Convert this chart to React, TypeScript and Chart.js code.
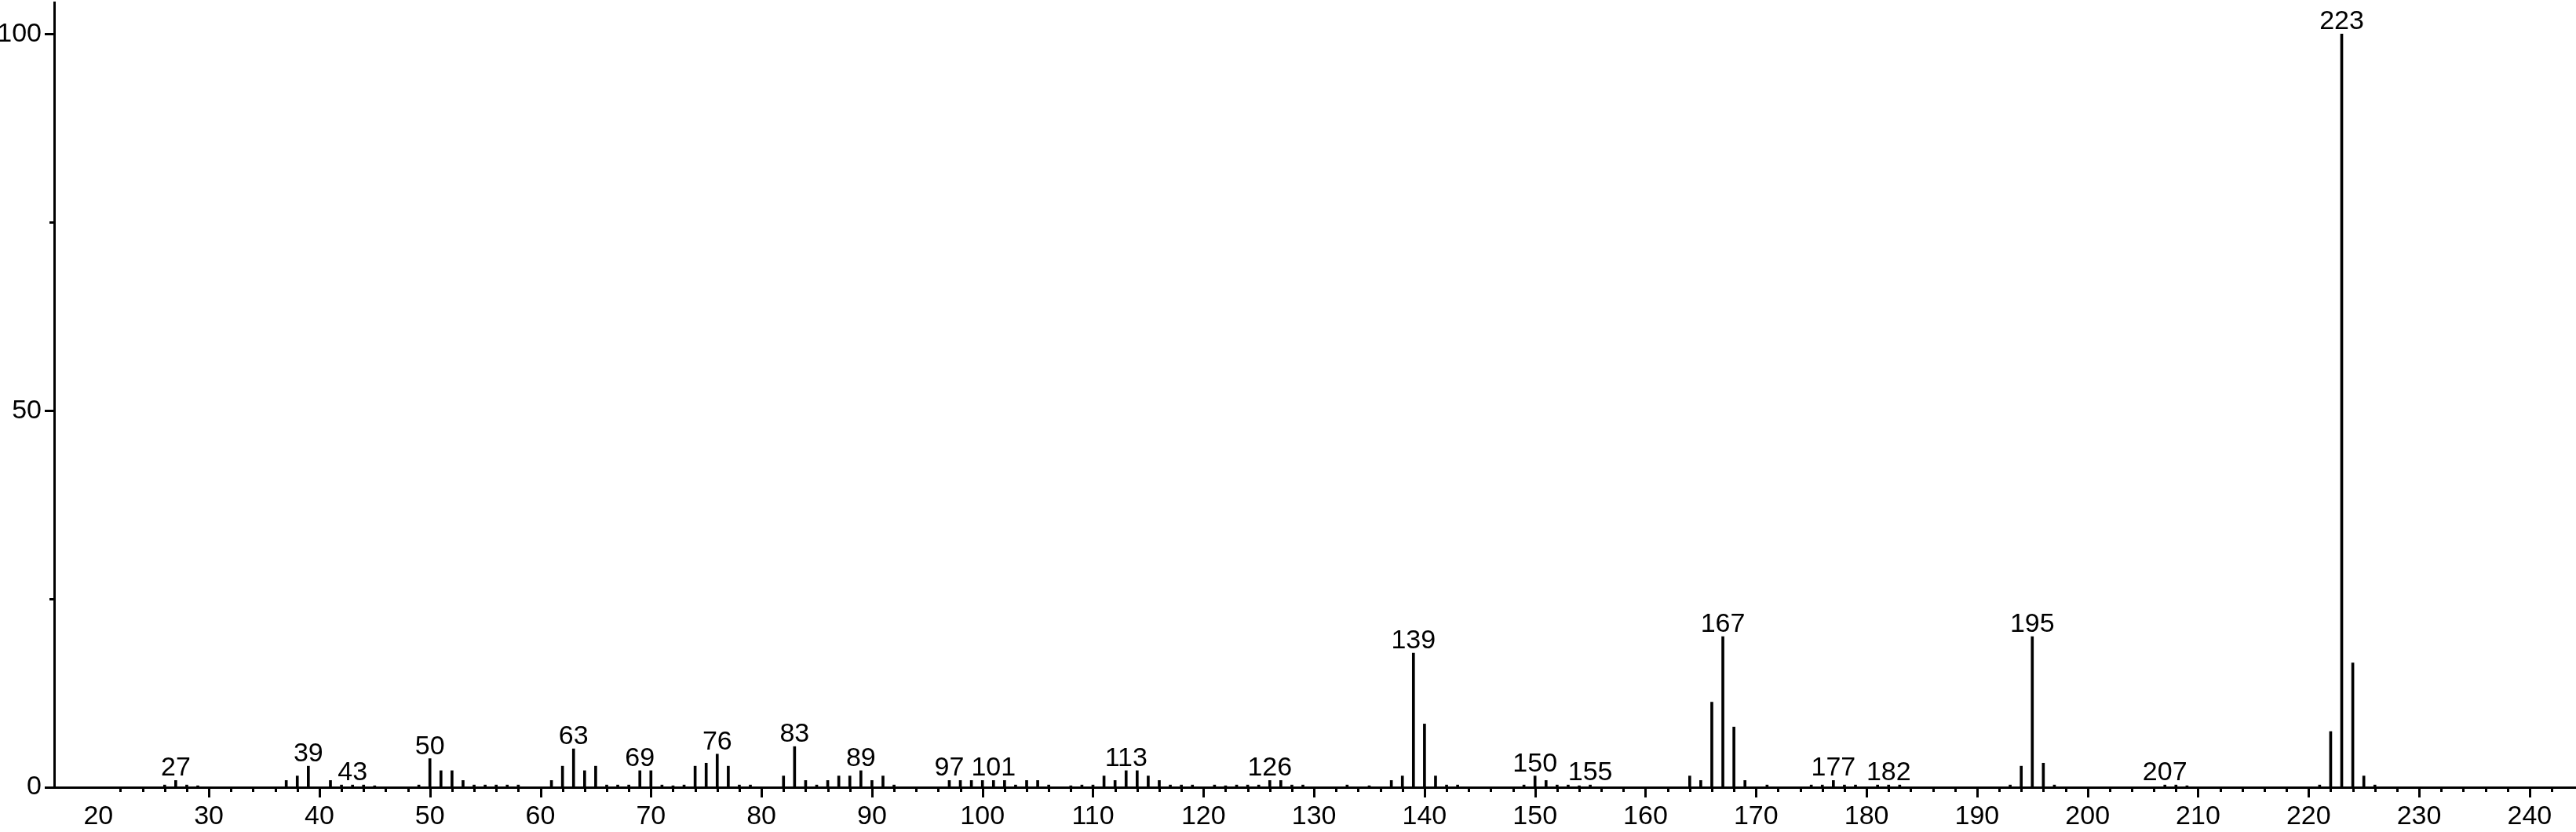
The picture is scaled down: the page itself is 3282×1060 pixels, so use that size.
import React, { useEffect, useRef } from "react";
import { Chart, registerables } from "chart.js";

Chart.register(...registerables);

// m/z values of the peaks
const masses: number[] = [
  26, 27, 28, 29, 37, 38, 39, 41, 42, 43, 44, 45, 49, 50, 51, 52, 53, 54, 55, 56, 57, 58,
  61, 62, 63, 64, 65, 66, 67, 68, 69, 70, 71, 72, 73, 74, 75, 76, 77, 78, 79,
  82, 83, 84, 85, 86, 87, 88, 89, 90, 91, 92,
  97, 98, 99, 100, 101, 102, 103, 104, 105, 106, 108, 109, 110,
  111, 112, 113, 114, 115, 116, 117, 118, 119, 121, 122, 123, 124, 125, 126, 127, 128, 129,
  133, 135, 137, 138, 139, 140, 141, 142, 143, 149, 150, 151, 152, 153, 154, 155,
  164, 165, 166, 167, 168, 169, 171, 175, 176, 177, 178, 179, 181, 182, 183,
  193, 194, 195, 196, 197, 207, 208, 209, 221, 222, 223, 224, 225, 226,
];

// relative intensities (%)
const intensities: number[] = [
  0.3, 0.9, 0.3, 0.2, 0.9, 1.5, 2.8, 0.9, 0.3, 0.3, 0.3, 0.2, 0.3, 3.8, 2.2, 2.2, 0.9, 0.3, 0.3, 0.3, 0.3, 0.3,
  0.9, 2.8, 5.1, 2.2, 2.8, 0.3, 0.3, 0.3, 2.2, 2.2, 0.3, 0.2, 0.3, 2.8, 3.2, 4.4, 2.8, 0.3, 0.3,
  1.5, 5.4, 0.9, 0.3, 0.9, 1.5, 1.5, 2.2, 0.9, 1.5, 0.3,
  0.9, 0.9, 0.9, 0.9, 0.9, 0.9, 0.3, 0.9, 0.9, 0.3, 0.2, 0.3, 0.3,
  1.5, 0.9, 2.2, 2.2, 1.5, 0.9, 0.3, 0.3, 0.3, 0.3, 0.2, 0.3, 0.3, 0.3, 0.9, 0.9, 0.3, 0.3,
  0.3, 0.2, 0.9, 1.5, 17.8, 8.4, 1.5, 0.3, 0.3, 0.3, 1.5, 0.9, 0.3, 0.3, 0.2, 0.3,
  1.5, 0.9, 11.3, 20.0, 8.0, 0.9, 0.3, 0.3, 0.3, 0.9, 0.3, 0.3, 0.3, 0.3, 0.3,
  0.3, 2.8, 20.0, 3.2, 0.3, 0.3, 0.3, 0.2, 0.3, 7.4, 100, 16.5, 1.5, 0.3,
];

// peaks annotated with their m/z
const labeledMasses: number[] = [
  27, 39, 43, 50, 63, 69, 76, 83, 89, 97, 101, 113, 126, 139, 150, 155, 167, 177, 182, 195, 207, 223,
];

// axis tick labels
const xTickValues: number[] = [20, 30, 40, 50, 60, 70, 80, 90, 100, 110, 120, 130, 140, 150, 160, 170, 180, 190, 200, 210, 220, 230, 240];
const yTickValues: number[] = [0, 50, 100];
const yMinorTickValues: number[] = [25, 75];

const FONT = "'Liberation Sans', Arial, Helvetica, sans-serif";
const FONT_SIZE = 34;

const msPlugin = {
  id: "msDecor",
  afterDraw(chart: any) {
    const ctx = chart.ctx as CanvasRenderingContext2D;
    const xs = chart.scales.x;
    const ys = chart.scales.y;
    const area = chart.chartArea;
    const base = ys.getPixelForValue(0);
    ctx.save();
    ctx.strokeStyle = "#000";
    ctx.lineWidth = 3;
    ctx.lineCap = "butt";
    // x ticks: minor every 2, major every 10
    for (let v = 22; v <= 242; v += 2) {
      const px = Math.round(xs.getPixelForValue(v)) + 0.5;
      const len = v % 10 === 0 ? 13 : 6;
      ctx.beginPath();
      ctx.moveTo(px, base);
      ctx.lineTo(px, base + len);
      ctx.stroke();
    }
    // y ticks
    const drawY = (v: number, len: number) => {
      const py = Math.round(ys.getPixelForValue(v)) + 0.5;
      ctx.beginPath();
      ctx.moveTo(area.left, py);
      ctx.lineTo(area.left - len, py);
      ctx.stroke();
    };
    yTickValues.forEach((v) => drawY(v, 12));
    yMinorTickValues.forEach((v) => drawY(v, 6));

    // peak labels
    ctx.fillStyle = "#000";
    ctx.font = `${FONT_SIZE}px ${FONT}`;
    ctx.textAlign = "center";
    ctx.textBaseline = "alphabetic";
    labeledMasses.forEach((m) => {
      const i = masses.indexOf(m);
      if (i < 0) return;
      const px = xs.getPixelForValue(m);
      const py = ys.getPixelForValue(intensities[i]);
      ctx.fillText(String(m), px, py - 6);
    });
    ctx.restore();
  },
};

const zeroPadding = (scale: any) => {
  scale.paddingTop = 0;
  scale.paddingBottom = 0;
  scale.paddingLeft = 0;
  scale.paddingRight = 0;
};

export default function App() {
  const ref = useRef<HTMLCanvasElement | null>(null);

  useEffect(() => {
    document.body.style.margin = "0";
    const canvas = ref.current;
    if (!canvas) return;
    const chart = new Chart(canvas, {
      type: "bar",
      data: {
        datasets: [
          {
            data: masses.map((m, i) => ({ x: m, y: intensities[i] })),
            backgroundColor: "#000",
            borderWidth: 0,
            barThickness: 3,
          },
        ],
      },
      options: {
        animation: false,
        responsive: false,
        maintainAspectRatio: false,
        devicePixelRatio: 1,
        layout: { padding: { top: 3, left: 0, right: 0, bottom: 0 } },
        plugins: {
          legend: { display: false },
          tooltip: { enabled: false },
        },
        scales: {
          x: {
            type: "linear",
            min: 16,
            max: 244.2,
            offset: false,
            grid: { display: false, drawTicks: false },
            border: { display: true, color: "#000", width: 3 },
            afterBuildTicks: (scale: any) => {
              scale.ticks = xTickValues.map((v) => ({ value: v }));
            },
            afterFit: (scale: any) => {
              scale.height = 57;
              zeroPadding(scale);
            },
            ticks: {
              color: "#000",
              padding: 17,
              maxRotation: 0,
              autoSkip: false,
              font: { family: FONT, size: FONT_SIZE },
              callback: (v: any) => String(v),
            },
          },
          y: {
            type: "linear",
            min: 0,
            max: 104.2,
            grid: { display: false, drawTicks: false },
            border: { display: true, color: "#000", width: 3 },
            afterBuildTicks: (scale: any) => {
              scale.ticks = yTickValues.map((v) => ({ value: v }));
            },
            afterFit: (scale: any) => {
              scale.width = 69;
              zeroPadding(scale);
            },
            ticks: {
              color: "#000",
              padding: 16,
              font: { family: FONT, size: FONT_SIZE },
              callback: (v: any) => String(v),
            },
          },
        },
      },
      plugins: [msPlugin],
    } as any);
    return () => chart.destroy();
  }, []);

  return (
    <div style={{ width: 3282, height: 1060, background: "#fff" }}>
      <canvas ref={ref} width={3282} height={1060} style={{ display: "block" }} />
    </div>
  );
}
